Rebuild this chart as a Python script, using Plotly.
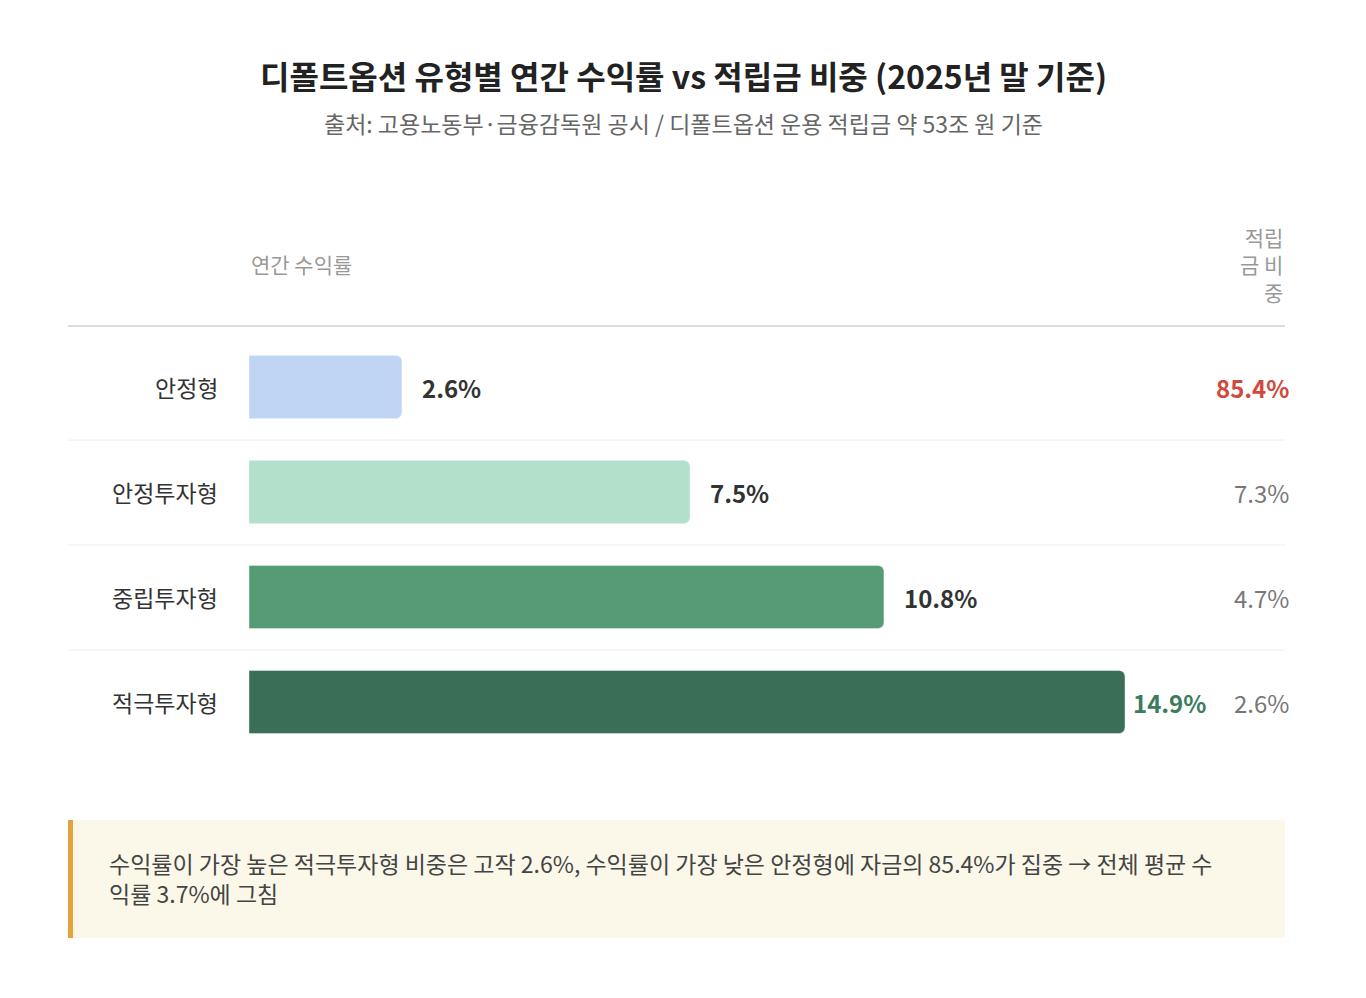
import plotly.graph_objects as go

categories = ["안정형", "안정투자형", "중립투자형", "적극투자형"]
returns = [2.6, 7.5, 10.8, 14.9]
shares = [85.4, 7.3, 4.7, 2.6]
colors = ["#c0d5f3", "#b2e0cb", "#569b76", "#3b6e57"]

W, H = 1366, 998
OFF = 8
F = "Noto Sans CJK KR"
def px(x): return (x - OFF) / W
def py(y): return 1 - (y - OFF) / H

fig = go.Figure(go.Bar(
    x=returns, y=categories, orientation="h", marker_color=colors,
    width=0.6, hoverinfo="skip"))

ann = []
for i, (c, r, s) in enumerate(zip(categories, returns, shares)):
    ann.append(dict(x=px(220), xref="paper", y=c, yref="y", text=c, showarrow=False,
                    xanchor="right", yanchor="middle", font=dict(family=F, size=23, color="#333")))
    last = i == len(categories) - 1
    ann.append(dict(x=r, xref="x", y=c, yref="y", text=f"<b>{r}%</b>", showarrow=False,
                    xanchor="left", yanchor="middle", xshift=6 if last else 18,
                    font=dict(family=F, size=24, color="#3b7b5e" if last else "#333")))
    first = i == 0
    ann.append(dict(x=px(1291), xref="paper", y=c, yref="y",
                    text=f"<b>{s}%</b>" if first else f"{s}%", showarrow=False,
                    xanchor="right", yanchor="middle",
                    font=dict(family=F, size=24, color="#d1493b" if first else "#777")))

def pa(x, y, text, size, color, xanchor="center", align="center"):
    return dict(x=px(x), y=py(y), xref="paper", yref="paper", showarrow=False,
                xanchor=xanchor, yanchor="middle", align=align, text=text,
                font=dict(family=F, size=size, color=color))

ann += [
    pa(683, 75, "<b>디폴트옵션 유형별 연간 수익률 vs 적립금 비중 (2025년 말 기준)</b>", 32, "#222"),
    pa(683, 123, "출처: 고용노동부·금융감독원 공시 / 디폴트옵션 운용 적립금 약 53조 원 기준", 23, "#666"),
    pa(249, 264, "연간 수익률", 21, "#999", xanchor="left", align="left"),
    pa(1285, 264, "적립<br>금 비<br>중", 21, "#999", xanchor="right", align="right"),
    pa(107, 878,
       "수익률이 가장 높은 적극투자형 비중은 고작 2.6%, 수익률이 가장 낮은 안정형에 자금의 85.4%가 집중 → 전체 평균 수<br>익률 3.7%에 그침",
       23, "#444", xanchor="left", align="left"),
]

shapes = [dict(type="line", xref="paper", yref="paper", x0=px(68), x1=px(1285),
               y0=py(326), y1=py(326), line=dict(color="#ddd", width=2))]
for y in [440, 545, 650]:
    shapes.append(dict(type="line", xref="paper", yref="paper", x0=px(68), x1=px(1285),
                       y0=py(y), y1=py(y), line=dict(color="#eee", width=1)))
shapes.append(dict(type="rect", xref="paper", yref="paper", x0=px(68), x1=px(1285),
                   y0=py(938), y1=py(820), fillcolor="#fbf8ea", line=dict(width=0), layer="below"))
shapes.append(dict(type="rect", xref="paper", yref="paper", x0=px(68), x1=px(73),
                   y0=py(938), y1=py(820), fillcolor="#e3a23c", line=dict(width=0)))

fig.update_layout(
    width=W, height=H, margin=dict(l=0, r=0, t=0, b=0),
    paper_bgcolor="white", plot_bgcolor="white", showlegend=False,
    barcornerradius=6,
    xaxis=dict(domain=[px(249), px(1285)], range=[0, 1036 / ((1125 - 249) / 14.9)],
               visible=False, fixedrange=True),
    yaxis=dict(domain=[py(754.5), py(334.5)], range=[3.5, -0.5], visible=False,
               categoryorder="array", categoryarray=categories),
    annotations=ann, shapes=shapes,
)
fig.write_html("out.html")
